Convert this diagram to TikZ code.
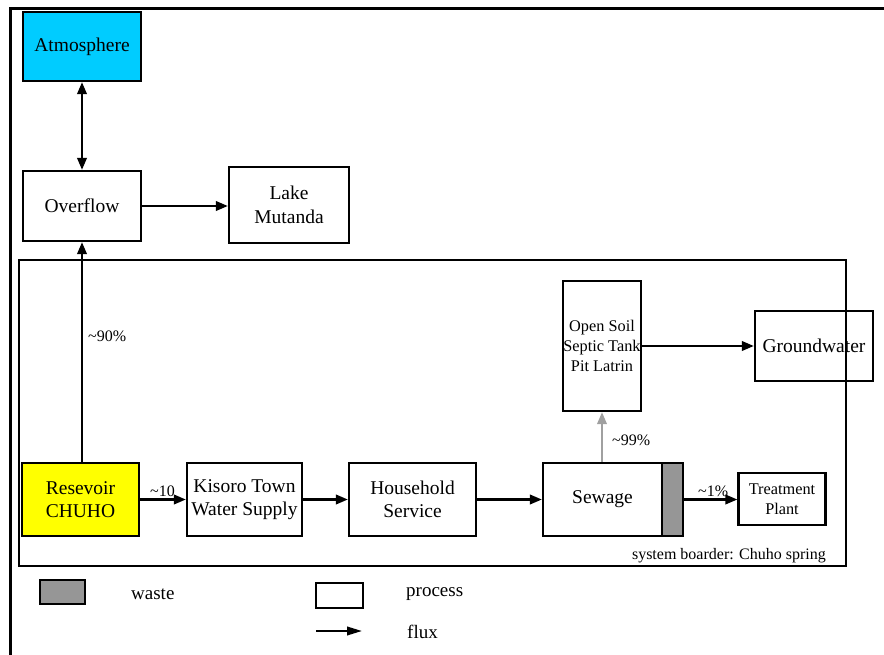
\documentclass[tikz,border=0pt]{standalone}
\usepackage{fontspec}
\setmainfont{Liberation Serif}
\usetikzlibrary{arrows.meta,positioning}
\definecolor{atmcyan}{RGB}{0,204,255}
\definecolor{resyellow}{RGB}{255,255,0}
\definecolor{wastegray}{RGB}{150,150,150}
\definecolor{fluxgray}{RGB}{160,160,160}
\tikzset{
  box/.style={draw=black, line width=2.3pt, rectangle, inner sep=0pt, align=center,
    font=\fontsize{19.5}{23.5}\selectfont},
  smallbox/.style={box, font=\fontsize{16.3}{19.8}\selectfont},
  tip/.style={Triangle[length=12pt,width=9.5pt]},
  flow/.style={draw=black, line width=2.2pt, -{Triangle[length=12pt,width=9.5pt]}},
  lbl/.style={font=\fontsize{16}{19}\selectfont, inner sep=0pt},
  legtxt/.style={font=\fontsize{19}{22}\selectfont, inner sep=0pt, anchor=west},
}
\begin{document}
\begin{tikzpicture}[x=1pt,y=-1pt]
\useasboundingbox (0,0) rectangle (884,655);
% outer frame
\draw[line width=3.4pt] (10.5,655) -- (10.5,8.5) -- (884,8.5);
% system border
\draw[line width=1.8pt] (19,260) rectangle (846,566);
\node[lbl, anchor=east] (sysb) at (826,556) {system boarder: Chuho spring};
% nodes
\node[box, fill=atmcyan, minimum width=118pt, minimum height=69pt] (atm) at (82,46.5) {Atmosphere};
\node[box, minimum width=118pt, minimum height=70pt] (ov) at (82,206) {Overflow};
\node[box, minimum width=120pt, minimum height=76pt] (lake) at (289,205) {Lake\\Mutanda};
\node[box, fill=resyellow, minimum width=117pt, minimum height=73pt] (res) at (80.5,499.5) {Resevoir\\CHUHO};
\node[box, minimum width=115pt, minimum height=73pt] (kis) at (244.5,499.5) {Kisoro Town\\Water Supply};
\node[box, minimum width=127pt, minimum height=73pt] (hh) at (412.5,499.5) {Household\\Service};
\node[box, minimum width=119pt, minimum height=73pt] (sew) at (602.5,499.5) {Sewage};
\node[box, fill=wastegray, minimum width=21pt, minimum height=73pt] (waste) at (672.5,499.5) {};
\node[smallbox, minimum width=87pt, minimum height=52pt] (tp) at (782,499) {Treatment\\Plant};
\node[smallbox, minimum width=78pt, minimum height=130pt] (os) at (602,346) {Open Soil\\Septic Tank\\Pit Latrin};
\node[box, minimum width=118pt, minimum height=70pt] (gw) at (814,346) {Groundwater};
% connectors
\draw[line width=2.2pt, {Triangle[length=12pt,width=9.5pt]}-{Triangle[length=12pt,width=9.5pt]}] (ov.north) -- (atm.south);
\draw[flow] (ov.east) -- (lake.west |- ov.east);
\draw[flow] (ov.south |- res.north) -- (ov.south);
\draw[flow] (res.east) -- (kis.west);
\draw[flow] (kis.east) -- (hh.west);
\draw[flow] (hh.east) -- (sew.west);
\draw[flow] (waste.east) -- (tp.west |- waste.east);
\draw[flow, draw=fluxgray, fill=fluxgray] (os.south |- sew.north) -- (os.south);
\draw[flow] (os.east) -- (gw.west);
% labels
\node[lbl, anchor=west] (l90) at (88,336) {\textasciitilde90\%};
\node[lbl, anchor=west] (l10) at (150,491) {\textasciitilde10};
\node[lbl, anchor=west] (l1) at (698,491) {\textasciitilde1\%};
\node[lbl, anchor=west] (l99) at (612,440) {\textasciitilde99\%};
% legend
\node[draw=black, line width=2.3pt, fill=wastegray, minimum width=45pt, minimum height=24pt, inner sep=0pt] (legw) at (62.5,592) {};
\node[legtxt] (legwt) at (131,594) {waste};
\node[draw=black, line width=2.3pt, minimum width=47pt, minimum height=25pt, inner sep=0pt] (legp) at (339.5,595.5) {};
\node[legtxt] (legpt) at (406,594) {process};
\coordinate (fa) at (316,631);
\coordinate (fb) at (362,631);
\draw[line width=2.2pt, -{Triangle[length=15pt,width=8.5pt]}] (fa) -- (fb);
\node[legtxt] (legft) at (407,632) {flux};
\end{tikzpicture}
\end{document}
